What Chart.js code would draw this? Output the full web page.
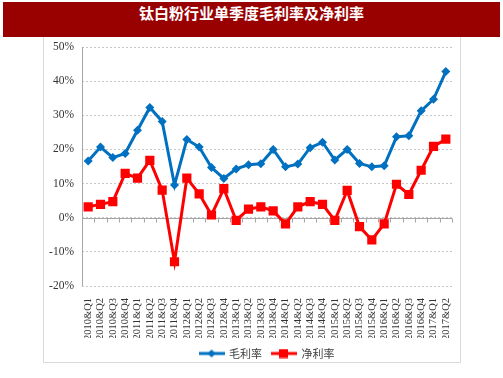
<!DOCTYPE html>
<html>
<head>
<meta charset="utf-8">
<script src="https://cdn.jsdelivr.net/npm/chart.js@4"></script>
<style>
body { margin: 0; background: #fff; }
#wrap { position: relative; width: 503px; height: 378px; overflow: hidden; }
#title {
    position: absolute; left: 3px; top: 2px; width: 497px; height: 35px;
    background: #990000; color: #fff; text-align: center; line-height: 35px;
    font: bold 15px "Noto Sans CJK SC", sans-serif;
}
#frame { position: absolute; left: 43px; top: 37px; width: 416px; height: 325px; border: 1px solid #d9d9d9; border-top: none; }
#c { position: absolute; left: 0; top: 0; }
</style>
</head>
<body>
<div id="wrap">
    <div id="frame"></div>
    <div id="title">钛白粉行业单季度毛利率及净利率</div>
    <canvas id="c" width="503" height="378"></canvas>
</div>
<script>
const years = ['2010', '2011', '2012', '2013', '2014', '2015', '2016', '2017']
let quarters = []
years.forEach(y => {
    ['Q1', 'Q2', 'Q3', 'Q4'].forEach(q => {
        if (y === '2017' && (q === 'Q3' || q === 'Q4')) return
        quarters.push(y + '&' + q)
    })
})

const grossMargin = [16.6, 20.7, 17.6, 18.8, 25.6, 32.3, 28.2, 9.6, 22.9, 20.7, 14.7, 11.5, 14.3, 15.5, 15.8,
    20.0, 14.9, 15.7, 20.5, 22.1, 16.9, 20.0, 15.9, 14.9, 15.2, 23.7, 24.0, 31.3, 34.7, 42.8]
const netMargin = [3.2, 3.9, 4.7, 13.0, 11.6, 16.8, 8.1, -12.9, 11.6, 7.0, 0.8, 8.5, -0.8, 2.5, 3.2,
    2.0, -1.8, 3.2, 4.7, 3.9, -0.8, 8.0, -2.6, -6.5, -1.8, 9.8, 6.8, 13.9, 20.9, 23.0]

const blue = '#0070c0'
const red = '#ff0000'

// legend sample: short line with the marker in the middle
const legendIcon = function (color, square) {
    const cv = document.createElement('canvas')
    cv.width = 26; cv.height = 10
    const ctx = cv.getContext('2d')
    ctx.strokeStyle = color; ctx.lineWidth = 3
    ctx.beginPath(); ctx.moveTo(0, 5); ctx.lineTo(26, 5); ctx.stroke()
    ctx.fillStyle = color
    ctx.beginPath()
    if (square) {
        ctx.rect(8, 0.5, 9, 9)
    } else {
        ctx.moveTo(13, 1); ctx.lineTo(17, 5); ctx.lineTo(13, 9); ctx.lineTo(9, 5); ctx.closePath()
    }
    ctx.fill()
    return cv
}

// solid y axis line, solid zero line with little ticks between categories
const axisLines = {
    id: 'axisLines',
    beforeDatasetsDraw(chart) {
        const ctx = chart.ctx
        const x = chart.scales.x, y = chart.scales.y
        const y0 = Math.round(y.getPixelForValue(0)) + 0.5
        const yl = Math.round(y.right) + 0.5
        ctx.save()
        ctx.strokeStyle = '#a6a6a6'
        ctx.lineWidth = 1
        ctx.beginPath()
        ctx.moveTo(yl, y.top); ctx.lineTo(yl, y.bottom)
        ctx.moveTo(x.left, y0); ctx.lineTo(x.right, y0)
        for (let i = 1; i <= quarters.length; i++) {
            const px = Math.round((x.getPixelForTick(i - 1) + x.getPixelForTick(Math.min(i, quarters.length - 1))) / 2)
            const bx = i === quarters.length ? Math.round(x.right) : px
            ctx.moveTo(bx + 0.5, y0); ctx.lineTo(bx + 0.5, y0 + 4)
        }
        ctx.stroke()
        ctx.restore()
    }
}

const data = {
    labels: quarters,
    datasets: [{
        label: '毛利率',
        data: grossMargin,
        borderColor: blue,
        backgroundColor: blue,
        borderWidth: 3,
        pointStyle: 'rectRot',
        pointRadius: 4.5,
        pointBorderWidth: 0,
        tension: 0,
        legendIcon: legendIcon(blue, false)
    }, {
        label: '净利率',
        data: netMargin,
        borderColor: red,
        backgroundColor: red,
        borderWidth: 3,
        pointStyle: 'rect',
        pointRadius: 6.5,
        pointBorderWidth: 0,
        tension: 0,
        legendIcon: legendIcon(red, true)
    }]
}

const config = {
    type: 'line',
    data: data,
    plugins: [axisLines],
    options: {
        responsive: false,
        animation: false,
        layout: { padding: { left: 20, right: 51, top: 47, bottom: 9 } },
        plugins: {
            tooltip: { enabled: false },
            legend: {
                position: 'bottom',
                fullSize: false,
                labels: {
                    usePointStyle: true,
                    pointStyleWidth: 24,
                    boxHeight: 10,
                    padding: 10,
                    color: '#404040',
                    font: { family: '"Noto Sans CJK SC"', size: 11 },
                    generateLabels: function (chart) {
                        return chart.data.datasets.map((ds, i) => ({
                            text: ds.label,
                            pointStyle: ds.legendIcon,
                            fillStyle: ds.borderColor,
                            strokeStyle: ds.borderColor,
                            lineWidth: 0,
                            fontColor: '#404040',
                            datasetIndex: i
                        }))
                    }
                }
            }
        },
        scales: {
            x: {
                offset: true,
                grid: { display: false },
                border: { display: false },
                ticks: {
                    autoSkip: false,
                    minRotation: 90,
                    maxRotation: 90,
                    padding: 4,
                    color: '#333',
                    font: { family: '"Liberation Serif"', size: 10.5 }
                },
                afterFit: function (scale) { scale.height = 52 }
            },
            y: {
                min: -20,
                max: 50,
                ticks: {
                    stepSize: 10,
                    padding: 8,
                    color: '#333',
                    font: { family: '"Liberation Serif"', size: 11.5 },
                    callback: v => v + '%'
                },
                grid: { color: '#c8c8c8', drawTicks: false },
                border: { display: false, dash: [2, 2] },
                afterFit: function (scale) { scale.width = 62 }
            }
        }
    }
}

window.onload = function () {
    new Chart(document.getElementById('c'), config)
}
</script>
</body>
</html>
